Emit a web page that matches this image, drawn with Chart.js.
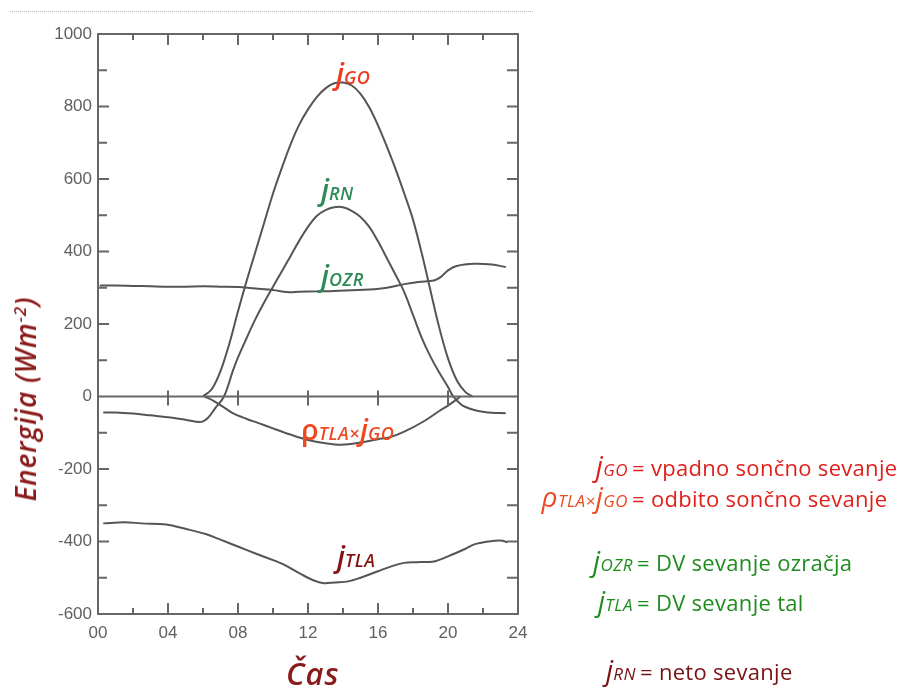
<!DOCTYPE html>
<html>
<head>
<meta charset="utf-8">
<script src="https://cdn.jsdelivr.net/npm/chart.js@4.4.1/dist/chart.umd.min.js"></script>
<style>
  body { margin: 0; background: #fff; }
  #wrap { position: relative; width: 901px; height: 690px; overflow: hidden; }
  #topRule { position: absolute; left: 10px; top: 11px; width: 523px; border-top: 1px dotted #bbb; }
  .lbl { position: absolute; font-family: "Open Sans", sans-serif; font-style: italic; white-space: nowrap; line-height: 1; }
  .lbl .j { font-size: 29px; font-weight: 600; }
  .lbl .s { font-size: 18px; font-weight: 600; letter-spacing: 0.5px; }
  .leg { position: absolute; font-family: "Open Sans", sans-serif; font-size: 22px; white-space: nowrap; line-height: 1; letter-spacing: 0.3px; }
  .leg .key { position: absolute; right: 0; top: -5px; font-style: italic; }
  .leg .key .j { font-size: 28px; }
  .leg .key .s { font-size: 17px; letter-spacing: 0.5px; }
  .leg .txt { position: absolute; left: 4px; top: 0; }
  #ytitle { position: absolute; left: 25px; top: 399px; transform: translate(-50%, -50%) rotate(-90deg);
    font-family: "Open Sans", sans-serif; font-style: italic; font-weight: 600; font-size: 28px; letter-spacing: 0.8px; color: #8b1a1a; white-space: nowrap; }
  #xtitle { position: absolute; left: 286px; top: 652px; font-family: "Open Sans", sans-serif; font-style: italic;
    font-weight: 600; font-size: 31px; letter-spacing: 1px; color: #8b1a1a; }
</style>
</head>
<body>
<div id="wrap">
  <canvas id="EnergyChart" width="901" height="690"></canvas>
  <div id="topRule"></div>

  <div class="lbl" style="left:336px; top:58px; color:#ee3b20"><span class="j">j</span><span class="s">GO</span></div>
  <div class="lbl" style="left:321px; top:174px; color:#2e8b57"><span class="j">j</span><span class="s">RN</span></div>
  <div class="lbl" style="left:321px; top:260px; color:#2e8b57"><span class="j">j</span><span class="s">OZR</span></div>
  <div class="lbl" style="left:301px; top:414px; color:#ee4a22"><span class="j" style="font-style:normal">ρ</span><span class="s">TLA</span><span class="s">×</span><span class="j">j</span><span class="s">GO</span></div>
  <div class="lbl" style="left:337px; top:541px; color:#861414"><span class="j">j</span><span class="s">TLA</span></div>

  <div class="leg" style="left:628px; top:456px; color:#e0201b">
    <span class="key"><span class="j">j</span><span class="s">GO</span></span><span class="txt">= vpadno sončno sevanje</span></div>
  <div class="leg" style="left:628px; top:487px; color:#e0201b">
    <span class="key" style="color:#ee4a22"><span class="j">ρ</span><span class="s">TLA</span><span class="s">×</span><span class="j">j</span><span class="s">GO</span></span><span class="txt">= odbito sončno sevanje</span></div>
  <div class="leg" style="left:633px; top:551px; color:#1e8c1e">
    <span class="key"><span class="j">j</span><span class="s">OZR</span></span><span class="txt">= DV sevanje ozračja</span></div>
  <div class="leg" style="left:633px; top:591px; color:#1e8c1e">
    <span class="key"><span class="j">j</span><span class="s">TLA</span></span><span class="txt">= DV sevanje tal</span></div>
  <div class="leg" style="left:636px; top:660px; color:#7a1010">
    <span class="key"><span class="j">j</span><span class="s">RN</span></span><span class="txt">= neto sevanje</span></div>

  <div id="ytitle">Energija (Wm<sup style="font-size:17px">-2</sup>)</div>
  <div id="xtitle">Čas</div>
</div>
<script>
// jGO - incident solar radiation
const hoursGO = [6, 6.5, 7, 7.5, 8, 8.5, 9, 9.5, 10, 10.5, 11, 11.5, 12, 12.5, 13, 13.5, 14, 14.5, 15, 15.5, 16, 16.5, 17, 17.5, 18, 18.5, 19, 19.5, 20, 20.5, 21, 21.4];
const valuesGO = [0, 20, 70, 145, 235, 320, 400, 480, 560, 630, 695, 750, 792, 826, 850, 864, 866, 858, 835, 798, 748, 690, 628, 560, 488, 395, 292, 190, 105, 45, 12, 0];

// jRN - net radiation
const hoursRN = [0.3, 1, 2, 3, 4, 5, 5.9, 6.3, 6.7, 7.2, 7.7, 8, 8.5, 9, 9.5, 10, 10.5, 11, 11.5, 12, 12.5, 13, 13.5, 14, 14.5, 15, 15.5, 16, 16.5, 17, 17.5, 18, 18.5, 19, 19.5, 20, 20.3, 20.7, 21, 21.5, 22, 22.5, 23.3];
const valuesRN = [-44, -44, -47, -52, -57, -64, -70, -58, -32, 0, 70, 108, 162, 214, 260, 303, 345, 387, 430, 468, 498, 514, 522, 522, 512, 495, 468, 428, 382, 336, 288, 225, 162, 110, 66, 26, 0, -20, -29, -37, -42, -45, -46];

// rho_TLA x jGO - reflected solar radiation
const hoursRef = [6.1, 6.6, 7.2, 7.7, 8.5, 9.1, 10, 11, 12, 13, 13.9, 15, 16, 16.7, 17.5, 18.6, 19.5, 20, 20.5, 20.7];
const valuesRef = [0, -12, -30, -46, -62, -72, -88, -105, -120, -129, -133, -127, -118, -112, -97, -69, -40, -25, -8, 0];

// jOZR - longwave radiation of the atmosphere
const hoursOZR = [0.1, 1, 2, 3, 4, 5, 6, 7, 8, 9, 10, 10.8, 11.5, 12.5, 13.5, 14.5, 15.5, 16.5, 17.5, 18.3, 19.2, 19.6, 20, 20.5, 21.5, 22.5, 23.3];
const valuesOZR = [306, 306, 305, 304, 303, 303, 304, 303, 302, 298, 294, 288, 289, 290, 291, 293, 295, 300, 310, 316, 320, 330, 348, 360, 366, 364, 357];

// jTLA - longwave radiation of the ground
const hoursTLA = [0.3, 1.5, 2.5, 3.9, 5, 6.2, 7, 8.1, 9, 10.2, 10.6, 11.6, 12.3, 12.9, 13.5, 14.3, 15, 16, 16.8, 17.5, 18.2, 19.2, 20, 21, 21.5, 22.3, 23, 23.4];
const valuesTLA = [-350, -347, -350, -353, -365, -380, -395, -416, -433, -455, -463, -490, -507, -515, -513, -510, -500, -482, -468, -459, -457, -455, -441, -420, -408, -400, -397, -402];

const xTicks = [0, 4, 8, 12, 16, 20, 24];
const yTicks = [-600, -400, -200, 0, 200, 400, 600, 800, 1000];

const toPoints = (hours, values) => hours.map((h, i) => ({ x: h, y: values[i] }));

const lineColor = '#555555';
const axisColor = '#666';

// inward ticks on every side, top/right frame and zero line
const frameTicks = {
    id: 'frameTicks',
    afterDraw(chart) {
        const ctx = chart.ctx;
        const a = chart.chartArea;
        const xs = chart.scales.x;
        const ys = chart.scales.y;
        const y0 = ys.getPixelForValue(0);
        ctx.save();
        ctx.strokeStyle = axisColor;
        ctx.lineWidth = 2;
        ctx.beginPath();
        ctx.moveTo(a.left, a.top); ctx.lineTo(a.right, a.top); ctx.lineTo(a.right, a.bottom);
        ctx.moveTo(a.left, y0); ctx.lineTo(a.right, y0);
        for (let h = 2; h < 24; h += 2) {
            const px = xs.getPixelForValue(h);
            const len = h % 4 === 0 ? 11 : 6;
            ctx.moveTo(px, a.bottom); ctx.lineTo(px, a.bottom - len);
            ctx.moveTo(px, a.top); ctx.lineTo(px, a.top + len);
            if (h % 4 === 0) { ctx.moveTo(px, y0 - 6); ctx.lineTo(px, y0 + 9); }
        }
        for (let v = -500; v < 1000; v += 100) {
            const py = ys.getPixelForValue(v);
            ctx.moveTo(a.left, py); ctx.lineTo(a.left + (v % 200 === 0 ? 11 : 9), py);
            ctx.moveTo(a.right, py); ctx.lineTo(a.right - 11, py);
        }
        ctx.stroke();
        ctx.restore();
    }
};

const makeSet = (label, hours, values) => ({
    label: label,
    data: toPoints(hours, values),
    borderColor: lineColor,
    borderWidth: 2,
    pointRadius: 0,
    fill: false,
    tension: 0.35
});

const config = {
    type: 'line',
    data: {
        datasets: [
            makeSet('jGO', hoursGO, valuesGO),
            makeSet('jRN', hoursRN, valuesRN),
            makeSet('ρTLA×jGO', hoursRef, valuesRef),
            makeSet('jOZR', hoursOZR, valuesOZR),
            makeSet('jTLA', hoursTLA, valuesTLA)
        ]
    },
    options: {
        responsive: false,
        animation: false,
        layout: { padding: { top: 34, right: 383, left: 0, bottom: 0 } },
        plugins: { legend: { display: false }, tooltip: { enabled: false } },
        scales: {
            x: {
                type: 'linear',
                min: 0,
                max: 24,
                afterFit: (s) => { s.height = 76; },
                afterBuildTicks: (s) => { s.ticks = xTicks.map(v => ({ value: v })); },
                grid: { display: false, drawTicks: false },
                border: { display: true, color: axisColor, width: 2 },
                ticks: {
                    padding: 9,
                    color: '#606060',
                    font: { family: 'Liberation Sans', size: 17 },
                    callback: (v) => String(v).padStart(2, '0')
                }
            },
            y: {
                min: -600,
                max: 1000,
                afterFit: (s) => { s.width = 98; },
                afterBuildTicks: (s) => { s.ticks = yTicks.map(v => ({ value: v })); },
                grid: { display: false, drawTicks: false },
                border: { display: true, color: axisColor, width: 2 },
                ticks: {
                    padding: 6,
                    color: '#606060',
                    font: { family: 'Liberation Sans', size: 17 },
                    callback: (v) => String(v)
                }
            }
        }
    },
    plugins: [frameTicks]
};

const EnergyChart = new Chart(document.getElementById('EnergyChart'), config);
</script>
</body>
</html>
